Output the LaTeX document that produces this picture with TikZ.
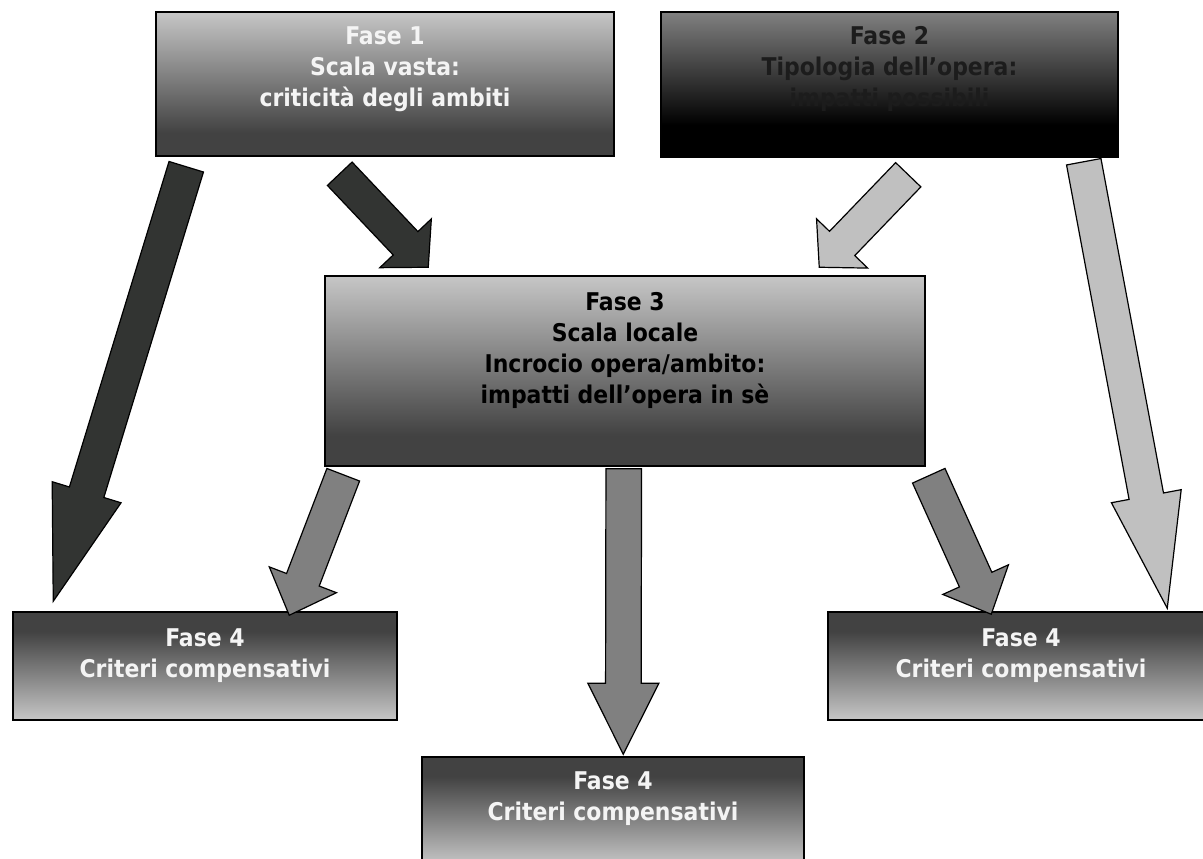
\documentclass[tikz,border=0pt]{standalone}
\usepackage{fontspec}
\setmainfont{DejaVu Sans Condensed}
\usetikzlibrary{calc}
\usetikzlibrary{positioning}

\definecolor{boxlight}{HTML}{C6C6C6}
\definecolor{boxdark}{HTML}{424242}
\definecolor{boxgrey}{HTML}{808080}
\definecolor{arrdark}{HTML}{323432}
\definecolor{arrlight}{HTML}{C0C0C0}
\definecolor{arrmid}{HTML}{808080}
\definecolor{txtwhite}{HTML}{F4F4F4}
\definecolor{txtblack}{HTML}{1C1C1C}

\pgfdeclareverticalshading{shadeone}{100bp}{color(0bp)=(boxdark); color(33bp)=(boxdark); color(75bp)=(boxlight); color(100bp)=(boxlight)}
\pgfdeclareverticalshading{shadetwo}{100bp}{color(0bp)=(black); color(36bp)=(black); color(75bp)=(boxgrey); color(100bp)=(boxgrey)}
\pgfdeclareverticalshading{shadefour}{100bp}{color(0bp)=(boxlight); color(25bp)=(boxlight); color(66bp)=(boxdark); color(100bp)=(boxdark)}

\tikzset{phase/.style = {draw=black, line width=1.5pt, rectangle, inner sep=0pt},
         phasetext/.style = {font=\bfseries\fontsize{24.4}{31}\selectfont, align=center, inner sep=0pt},
         darkarrow/.style = {draw=black, line width=1.2pt, line join=miter, fill=arrdark},
         lightarrow/.style = {draw=black, line width=1.2pt, line join=miter, fill=arrlight},
         midarrow/.style = {draw=black, line width=1.2pt, line join=miter, fill=arrmid}}

% style, tail, tip, half shaft, half head, head length
\newcommand{\blockarrow}[6]{
  \coordinate (hb) at ($(#3)!#6!(#2)$);
  \draw [#1] ($(#2)!#4!90:(#3)$) -- ($(hb)!#4!90:(#3)$) -- ($(hb)!#5!90:(#3)$) -- (#3)
    -- ($(hb)!#5!-90:(#3)$) -- ($(hb)!#4!-90:(#3)$) -- ($(#2)!#4!-90:(#3)$) -- cycle;
}

\begin{document}
\begin{tikzpicture}[x=1pt, y=-1pt]
    \useasboundingbox (0, 0) rectangle (1203, 859);
    \clip (0, 0) rectangle (1203, 859);

    \node [phase, shading=shadeone, minimum width=458, minimum height=144] (f1) at (385, 84) {};
    \node [phase, shading=shadetwo, minimum width=457, minimum height=145] (f2) at (889.5, 84.5) {};
    \node [phase, shading=shadeone, minimum width=600, minimum height=190] (f3) at (625, 371) {};
    \node [phase, shading=shadefour, minimum width=384, minimum height=108] (f4a) at (205, 666) {};
    \node [phase, shading=shadefour, minimum width=382, minimum height=108] (f4b) at (613, 811) {};
    \node [phase, shading=shadefour, minimum width=386, minimum height=108] (f4c) at (1021, 666) {};

    \node [phasetext, text=txtwhite, below=15pt of f1.north] (t1) {Fase 1\\Scala vasta:\\criticità degli ambiti};
    \node [phasetext, text=txtblack, below=15pt of f2.north] (t2) {Fase 2\\Tipologia dell’opera:\\impatti possibili};
    \node [phasetext, text=black, below=17pt of f3.north] (t3) {Fase 3\\Scala locale\\Incrocio opera/ambito:\\impatti dell’opera in sè};
    \node [phasetext, text=txtwhite, below=17pt of f4a.north] (t4a) {Fase 4\\Criteri compensativi};
    \node [phasetext, text=txtwhite, below=15pt of f4b.north] (t4b) {Fase 4\\Criteri compensativi};
    \node [phasetext, text=txtwhite, below=17pt of f4c.north] (t4c) {Fase 4\\Criteri compensativi};

    \coordinate (a1s) at ([shift={(31, 10)}]f1.south west);
    \coordinate (a1e) at ([shift={(41, -10)}]f4a.north west);
    \coordinate (a2s) at ([shift={(184.5, 17)}]f1.south west);
    \coordinate (a2e) at ([shift={(104, -8)}]f3.north west);
    \coordinate (a3s) at ([shift={(248, 17)}]f2.south west);
    \coordinate (a3e) at ([shift={(495, -8)}]f3.north west);
    \coordinate (a4s) at ([shift={(423.5, 4)}]f2.south west);
    \coordinate (a4e) at ([shift={(340, -3)}]f4c.north west);
    \coordinate (a5s) at ([shift={(19, 8)}]f3.south west);
    \coordinate (a5e) at ([shift={(277, 4)}]f4a.north west);
    \coordinate (a6s) at ([shift={(299.5, 2)}]f3.south west);
    \coordinate (a6e) at ([shift={(202, -2)}]f4b.north west);
    \coordinate (a7s) at ([shift={(604.5, 9)}]f3.south west);
    \coordinate (a7e) at ([shift={(164, 3)}]f4c.north west);

    \blockarrow{darkarrow}{a1s}{a1e}{18pt}{36pt}{114pt}
    \blockarrow{darkarrow}{a2s}{a2e}{17pt}{35.5pt}{33pt}
    \blockarrow{lightarrow}{a3s}{a3e}{17.5pt}{35.5pt}{33pt}
    \blockarrow{lightarrow}{a4s}{a4e}{17.5pt}{35.5pt}{114pt}
    \blockarrow{midarrow}{a5s}{a5e}{17.5pt}{36pt}{38pt}
    \blockarrow{midarrow}{a6s}{a6e}{17.8pt}{35.5pt}{71pt}
    \blockarrow{midarrow}{a7s}{a7e}{17.8pt}{36pt}{38pt}
\end{tikzpicture}
\end{document}
